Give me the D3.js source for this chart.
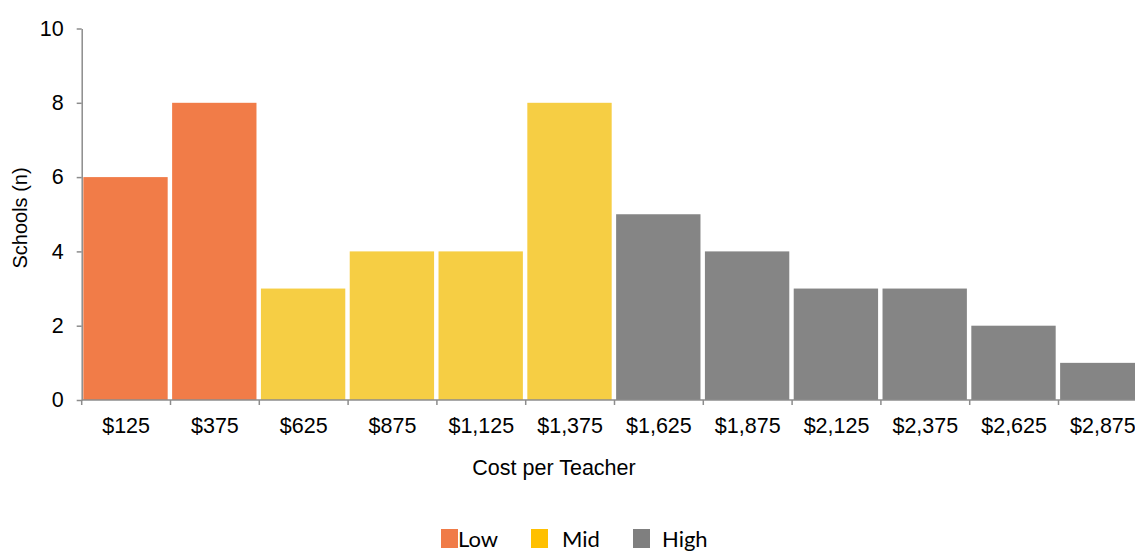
<!DOCTYPE html>
<html>
<head>
<meta charset="utf-8">
<script src="https://cdn.jsdelivr.net/npm/d3@7"></script>
<style>
  html, body { margin: 0; padding: 0; background: #fff; }
  svg { display: block; }
</style>
</head>
<body>
<svg id="chart" width="1135" height="551"></svg>
<script>
// Histogram of schools by cost per teacher, grouped into cost tiers
const categories = ["$125", "$375", "$625", "$875", "$1,125", "$1,375",
                    "$1,625", "$1,875", "$2,125", "$2,375", "$2,625", "$2,875"];
const schools = [6, 8, 3, 4, 4, 8, 5, 4, 3, 3, 2, 1];
const tiers = ["Low", "Low", "Mid", "Mid", "Mid", "Mid",
               "High", "High", "High", "High", "High", "High"];
const yTicks = [0, 2, 4, 6, 8, 10];
const legendLabels = ["Low", "Mid", "High"];

const barColor = { Low: "#F17C48", Mid: "#F6CE44", High: "#858585" };
const legendColor = { Low: "#F07B47", Mid: "#FFC000", High: "#7F7F7F" };

const svg = d3.select("#chart");
const axisColor = "#8c8c8c";
const tickFont = "'Liberation Sans', Arial, sans-serif";
const tickSize = 21.5;

const x0 = 81.7, step = 88.8;
const x = d3.scaleBand()
  .domain(categories)
  .range([x0, x0 + step * categories.length])
  .paddingInner(0.05)
  .paddingOuter(0.025);

const y = d3.scaleLinear().domain([0, 10]).range([400, 28.5]);

// bars
svg.append("g").selectAll("rect")
  .data(categories.map((c, i) => ({ c, v: schools[i], t: tiers[i] })))
  .join("rect")
  .attr("x", d => x(d.c) - 0.6)
  .attr("y", d => y(d.v))
  .attr("width", x.bandwidth())
  .attr("height", d => y(0) - y(d.v))
  .attr("fill", d => barColor[d.t]);

// y axis
const yAxis = svg.append("g")
  .attr("transform", `translate(${x0},0)`)
  .call(d3.axisLeft(y).tickValues(yTicks).tickSize(5).tickSizeOuter(0).tickPadding(13));
yAxis.select(".domain").attr("stroke", axisColor).attr("stroke-width", 1.5);
yAxis.selectAll(".tick line").attr("stroke", axisColor).attr("stroke-width", 1.5);
yAxis.selectAll(".tick text")
  .attr("font-family", tickFont).attr("font-size", tickSize).attr("fill", "#000");

// x axis: labels centred in each band, tick marks on band boundaries
const xAxis = svg.append("g")
  .attr("transform", `translate(0,${y(0)})`)
  .call(d3.axisBottom(x).tickSize(0).tickSizeOuter(0).tickPadding(17.5));
xAxis.select(".domain").remove();
xAxis.selectAll(".tick text")
  .attr("font-family", tickFont).attr("font-size", tickSize).attr("fill", "#000");

svg.append("line")
  .attr("x1", x0).attr("x2", 1135)
  .attr("y1", y(0)).attr("y2", y(0))
  .attr("stroke", axisColor).attr("stroke-width", 1.5);

svg.append("g").selectAll("line")
  .data(d3.range(categories.length + 1))
  .join("line")
  .attr("x1", i => x0 + i * x.step())
  .attr("x2", i => x0 + i * x.step())
  .attr("y1", y(0)).attr("y2", y(0) + 5)
  .attr("stroke", axisColor).attr("stroke-width", 1.5);

// axis titles
svg.append("text")
  .attr("transform", "translate(27,218) rotate(-90)")
  .attr("text-anchor", "middle")
  .attr("font-family", tickFont).attr("font-size", 20)
  .text("Schools (n)");

svg.append("text")
  .attr("x", 554).attr("y", 475)
  .attr("text-anchor", "middle")
  .attr("font-family", tickFont).attr("font-size", 21.5)
  .text("Cost per Teacher");

// legend
const legendX = [441, 531, 633];
const legendTextX = [458, 562, 662];
const legend = svg.append("g");
legendLabels.forEach((lab, i) => {
  legend.append("rect")
    .attr("x", legendX[i]).attr("y", 529)
    .attr("width", 17).attr("height", 19)
    .attr("fill", legendColor[lab]);
  legend.append("text")
    .attr("x", legendTextX[i]).attr("y", 547)
    .attr("font-family", "Lato, 'Open Sans', sans-serif").attr("font-size", 22)
    .attr("fill", "#000")
    .text(lab);
});
</script>
</body>
</html>
